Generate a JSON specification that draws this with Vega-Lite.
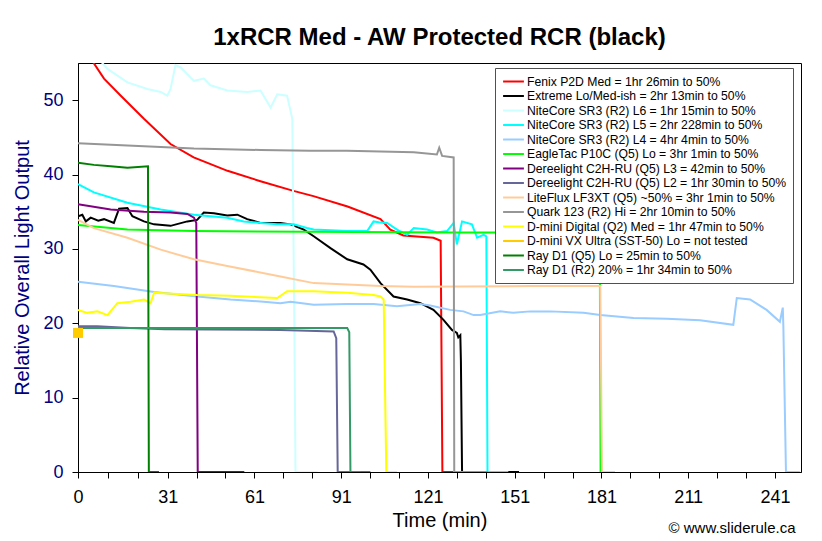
{
  "$schema": "https://vega.github.io/schema/vega-lite/v6.json",
  "background": "white",
  "padding": {"left": 12, "top": 25, "right": 22, "bottom": 0},
  "title": {"text": "© www.sliderule.ca", "orient": "bottom", "anchor": "end", "fontSize": 15, "font": "Liberation Sans", "fontWeight": "normal", "color": "black", "offset": -10, "dx": -6},
  "datasets": {
    "series": [
      {"k": "A", "name": "Fenix P2D Med = 1hr 26min to 50%"},
      {"k": "B", "name": "Extreme Lo/Med-ish = 2hr 13min to 50%"},
      {"k": "C", "name": "NiteCore SR3 (R2) L6 = 1hr 15min to 50%"},
      {"k": "D", "name": "NiteCore SR3 (R2) L5 = 2hr 228min to 50%"},
      {"k": "E", "name": "NiteCore SR3 (R2) L4 = 4hr 4min to 50%"},
      {"k": "F", "name": "EagleTac P10C (Q5) Lo = 3hr 1min to 50%"},
      {"k": "G", "name": "Dereelight C2H-RU (Q5) L3 = 42min to 50%"},
      {"k": "H", "name": "Dereelight C2H-RU (Q5) L2 = 1hr 30min to 50%"},
      {"k": "I", "name": "LiteFlux LF3XT (Q5) ~50% = 3hr 1min to 50%"},
      {"k": "J", "name": "Quark 123 (R2) Hi = 2hr 10min to 50%"},
      {"k": "K", "name": "D-mini Digital (Q2) Med = 1hr 47min to 50%"},
      {"k": "L", "name": "D-mini VX Ultra (SST-50) Lo = not tested"},
      {"k": "M", "name": "Ray D1 (Q5) Lo = 25min to 50%"},
      {"k": "N", "name": "Ray D1 (R2) 20% = 1hr 34min to 50%"}
    ],
    "runs": [
      {"k":"A","t":0,"y":57.7},{"k":"A","t":4.4,"y":55.6},{"k":"A","t":9,"y":52.9},{"k":"A","t":14.8,"y":50.6},{"k":"A","t":22.8,"y":47.5},{"k":"A","t":32,"y":44.1},{"k":"A","t":40,"y":42.3},{"k":"A","t":51.7,"y":40.5},{"k":"A","t":63.1,"y":39.1},{"k":"A","t":74.5,"y":37.8},{"k":"A","t":81.4,"y":37.1},{"k":"A","t":93.2,"y":35.7},{"k":"A","t":104.6,"y":34.0},{"k":"A","t":108,"y":32.6},{"k":"A","t":112.5,"y":31.8},{"k":"A","t":122.9,"y":31.5},{"k":"A","t":125.4,"y":31.1},{"k":"A","t":126,"y":0},{"k":"A","t":129.8,"y":0},
      {"k":"B","t":0,"y":34.4},{"k":"B","t":1.5,"y":34.6},{"k":"B","t":2.7,"y":33.7},{"k":"B","t":4.4,"y":34.2},{"k":"B","t":7,"y":33.8},{"k":"B","t":9,"y":34.0},{"k":"B","t":12.4,"y":33.5},{"k":"B","t":14.2,"y":35.4},{"k":"B","t":17.1,"y":35.5},{"k":"B","t":18.8,"y":34.4},{"k":"B","t":22.8,"y":33.7},{"k":"B","t":26.3,"y":33.3},{"k":"B","t":32,"y":33.1},{"k":"B","t":37.8,"y":33.7},{"k":"B","t":41.2,"y":33.9},{"k":"B","t":43.5,"y":34.9},{"k":"B","t":47,"y":34.8},{"k":"B","t":51.6,"y":34.5},{"k":"B","t":55.1,"y":34.6},{"k":"B","t":58.5,"y":34.0},{"k":"B","t":63.1,"y":33.5},{"k":"B","t":70,"y":33.5},{"k":"B","t":73.5,"y":33.3},{"k":"B","t":78.1,"y":32.6},{"k":"B","t":81.5,"y":31.7},{"k":"B","t":87.3,"y":30.1},{"k":"B","t":93.1,"y":28.6},{"k":"B","t":98.7,"y":27.9},{"k":"B","t":101.1,"y":27.2},{"k":"B","t":104.6,"y":25.4},{"k":"B","t":109.1,"y":23.6},{"k":"B","t":113.8,"y":23.2},{"k":"B","t":118.4,"y":22.7},{"k":"B","t":122.9,"y":21.8},{"k":"B","t":126.3,"y":20.5},{"k":"B","t":129.3,"y":19.1},{"k":"B","t":131,"y":18.7},{"k":"B","t":131.5,"y":18.1},{"k":"B","t":132.2,"y":18.4},{"k":"B","t":132.4,"y":15},{"k":"B","t":132.8,"y":0},{"k":"B","t":152.5,"y":0},
      {"k":"C","t":0,"y":58.5},{"k":"C","t":7.3,"y":55.5},{"k":"C","t":10.2,"y":54.2},{"k":"C","t":17.1,"y":52.4},{"k":"C","t":24,"y":51.5},{"k":"C","t":28.6,"y":51.1},{"k":"C","t":30.9,"y":50.6},{"k":"C","t":32,"y":51.5},{"k":"C","t":33.7,"y":54.7},{"k":"C","t":35.5,"y":54.4},{"k":"C","t":40.1,"y":52.6},{"k":"C","t":43.5,"y":52.9},{"k":"C","t":45.8,"y":52.0},{"k":"C","t":51.6,"y":51.3},{"k":"C","t":58.5,"y":51.1},{"k":"C","t":63.1,"y":51.3},{"k":"C","t":66.6,"y":49.0},{"k":"C","t":68.9,"y":50.8},{"k":"C","t":72.3,"y":50.6},{"k":"C","t":74.1,"y":47.5},{"k":"C","t":74.8,"y":20},{"k":"C","t":75.2,"y":0},{"k":"C","t":82.8,"y":0},
      {"k":"D","t":0,"y":38.7},{"k":"D","t":5.5,"y":37.6},{"k":"D","t":17.1,"y":36.2},{"k":"D","t":28.6,"y":35.3},{"k":"D","t":40.1,"y":34.6},{"k":"D","t":45.8,"y":34.4},{"k":"D","t":51.6,"y":34.2},{"k":"D","t":57.3,"y":33.7},{"k":"D","t":63.1,"y":33.5},{"k":"D","t":68.9,"y":33.3},{"k":"D","t":74.6,"y":33.3},{"k":"D","t":79.2,"y":32.8},{"k":"D","t":81.5,"y":32.6},{"k":"D","t":93.1,"y":32.4},{"k":"D","t":100,"y":32.4},{"k":"D","t":102.2,"y":33.7},{"k":"D","t":104,"y":33.6},{"k":"D","t":106.9,"y":33.5},{"k":"D","t":110.3,"y":32.6},{"k":"D","t":113.8,"y":31.9},{"k":"D","t":116.1,"y":32.8},{"k":"D","t":120.7,"y":32.6},{"k":"D","t":124.1,"y":32.2},{"k":"D","t":127.6,"y":32.4},{"k":"D","t":129.9,"y":33.5},{"k":"D","t":131,"y":30.6},{"k":"D","t":132.8,"y":33.7},{"k":"D","t":136.2,"y":33.3},{"k":"D","t":138,"y":31.5},{"k":"D","t":140.2,"y":31.9},{"k":"D","t":141.2,"y":31.7},{"k":"D","t":141.6,"y":0},{"k":"D","t":148.8,"y":0},
      {"k":"E","t":0,"y":25.6},{"k":"E","t":12.4,"y":25.0},{"k":"E","t":26.3,"y":24.2},{"k":"E","t":41.2,"y":23.6},{"k":"E","t":52.7,"y":23.2},{"k":"E","t":64.2,"y":22.9},{"k":"E","t":70,"y":22.7},{"k":"E","t":73.5,"y":22.9},{"k":"E","t":81.5,"y":22.5},{"k":"E","t":93.1,"y":22.6},{"k":"E","t":102.2,"y":22.6},{"k":"E","t":110.3,"y":22.3},{"k":"E","t":118.4,"y":22.6},{"k":"E","t":121.8,"y":22.4},{"k":"E","t":128.7,"y":21.8},{"k":"E","t":133.3,"y":21.6},{"k":"E","t":136.8,"y":21.1},{"k":"E","t":139.1,"y":21.1},{"k":"E","t":146,"y":21.6},{"k":"E","t":150.5,"y":21.4},{"k":"E","t":156.4,"y":21.6},{"k":"E","t":163.3,"y":21.6},{"k":"E","t":174.8,"y":21.4},{"k":"E","t":180.6,"y":21.1},{"k":"E","t":192.1,"y":20.7},{"k":"E","t":203.6,"y":20.6},{"k":"E","t":215.1,"y":20.4},{"k":"E","t":226.6,"y":19.8},{"k":"E","t":227.8,"y":23.4},{"k":"E","t":232.4,"y":23.2},{"k":"E","t":238.1,"y":21.8},{"k":"E","t":242.7,"y":20.2},{"k":"E","t":243.7,"y":22.1},{"k":"E","t":243.9,"y":19.6},{"k":"E","t":244.8,"y":0},{"k":"E","t":249.6,"y":0},
      {"k":"F","t":0,"y":33.2},{"k":"F","t":17.1,"y":32.6},{"k":"F","t":40.1,"y":32.4},{"k":"F","t":80,"y":32.3},{"k":"F","t":130,"y":32.2},{"k":"F","t":180.4,"y":32.2},{"k":"F","t":180.7,"y":0},{"k":"F","t":181.5,"y":0},
      {"k":"G","t":0,"y":36.0},{"k":"G","t":11.3,"y":35.3},{"k":"G","t":22.8,"y":35.0},{"k":"G","t":32,"y":34.9},{"k":"G","t":37.8,"y":34.7},{"k":"G","t":40.1,"y":34.2},{"k":"G","t":40.9,"y":33.5},{"k":"G","t":41.4,"y":0},{"k":"G","t":57.5,"y":0},
      {"k":"H","t":0,"y":19.6},{"k":"H","t":6.7,"y":19.6},{"k":"H","t":18,"y":19.35},{"k":"H","t":30,"y":19.2},{"k":"H","t":70,"y":19.1},{"k":"H","t":88.4,"y":18.9},{"k":"H","t":89.3,"y":18.0},{"k":"H","t":89.8,"y":0},{"k":"H","t":101.1,"y":0},
      {"k":"I","t":0,"y":33.9},{"k":"I","t":5.5,"y":32.8},{"k":"I","t":17.1,"y":31.5},{"k":"I","t":28.6,"y":29.9},{"k":"I","t":40.1,"y":28.6},{"k":"I","t":51.6,"y":27.7},{"k":"I","t":70,"y":26.3},{"k":"I","t":81.5,"y":25.4},{"k":"I","t":93.1,"y":25.2},{"k":"I","t":104.6,"y":25.0},{"k":"I","t":116.1,"y":24.9},{"k":"I","t":156.4,"y":25.0},{"k":"I","t":180.6,"y":25.0},{"k":"I","t":181.2,"y":0},{"k":"I","t":185.7,"y":0},
      {"k":"J","t":0,"y":44.2},{"k":"J","t":17.1,"y":43.9},{"k":"J","t":40.1,"y":43.5},{"k":"J","t":63.1,"y":43.3},{"k":"J","t":80.4,"y":43.2},{"k":"J","t":93,"y":43.2},{"k":"J","t":116.1,"y":43.0},{"k":"J","t":124.1,"y":42.7},{"k":"J","t":124.9,"y":43.6},{"k":"J","t":125.9,"y":42.5},{"k":"J","t":129.9,"y":42.3},{"k":"J","t":130.1,"y":0},{"k":"J","t":141.8,"y":0},
      {"k":"K","t":0,"y":21.8},{"k":"K","t":3.2,"y":21.4},{"k":"K","t":6.7,"y":21.6},{"k":"K","t":10.2,"y":21.1},{"k":"K","t":13.6,"y":22.7},{"k":"K","t":18.2,"y":22.9},{"k":"K","t":22.8,"y":23.2},{"k":"K","t":25.1,"y":22.7},{"k":"K","t":26.3,"y":24.1},{"k":"K","t":41.2,"y":23.8},{"k":"K","t":52.7,"y":23.7},{"k":"K","t":68.9,"y":23.4},{"k":"K","t":72.3,"y":24.3},{"k":"K","t":81.5,"y":24.3},{"k":"K","t":93.1,"y":24.1},{"k":"K","t":102.2,"y":23.8},{"k":"K","t":104.6,"y":23.6},{"k":"K","t":105.7,"y":23.2},{"k":"K","t":106.6,"y":0},{"k":"K","t":110.3,"y":0},
      {"k":"L","t":0,"y":18.7},
      {"k":"M","t":0,"y":41.6},{"k":"M","t":5.5,"y":41.3},{"k":"M","t":11.3,"y":41.1},{"k":"M","t":17.1,"y":40.9},{"k":"M","t":24.2,"y":41.1},{"k":"M","t":24.5,"y":0},{"k":"M","t":28,"y":0},
      {"k":"N","t":0,"y":19.35},{"k":"N","t":30,"y":19.35},{"k":"N","t":60,"y":19.35},{"k":"N","t":93.1,"y":19.35},{"k":"N","t":93.8,"y":18.8},{"k":"N","t":94.2,"y":0},{"k":"N","t":97.7,"y":0}
    ]
  },
  "config": {
    "font": "Liberation Sans",
    "view": {"stroke": "black", "strokeWidth": 1},
    "axis": {"grid": false, "domainColor": "black", "tickColor": "black", "tickSize": 6, "labelFont": "Liberation Sans", "titleFont": "Liberation Sans", "titleFontWeight": "normal"}
  },
  "vconcat": [
    {
      "width": 723,
      "height": 409,
      "title": {"text": "1xRCR Med - AW Protected RCR (black)", "fontSize": 24, "font": "Liberation Sans", "fontWeight": "bold", "color": "black", "offset": 13},
      "data": {"name": "runs"},
      "transform": [
        {"lookup": "k", "from": {"data": {"name": "series"}, "key": "k", "fields": ["name"]}}
      ],
      "resolve": {"axis": {"x": "independent"}},
      "layer": [
        {
          "transform": [{"filter": "datum.k !== 'L'"}],
          "mark": {"type": "line", "strokeWidth": 2, "clip": true},
          "encoding": {
            "x": {"field": "t", "type": "quantitative", "scale": {"domain": [0, 250], "nice": false},
              "axis": {"orient": "bottom", "title": "Time (min)", "titleFontSize": 20, "titleColor": "black", "titlePadding": 4,
                "values": [0, 31, 61, 91, 121, 151, 181, 211, 241],
                "labelOverlap": false, "labelFlush": false, "labelFontSize": 18, "labelColor": "black", "labelPadding": 10}},
            "y": {"field": "y", "type": "quantitative", "scale": {"domain": [0, 55], "nice": false},
              "axis": {"title": "Relative Overall Light Output", "titleFontSize": 20, "titleColor": "#000080", "titlePadding": 10,
                "values": [0, 10, 20, 30, 40, 50], "labelFontSize": 18, "labelColor": "#000080", "labelPadding": 9}},
            "color": {"field": "name", "type": "nominal",
              "scale": {
                "domain": ["Fenix P2D Med = 1hr 26min to 50%", "Extreme Lo/Med-ish = 2hr 13min to 50%", "NiteCore SR3 (R2) L6 = 1hr 15min to 50%", "NiteCore SR3 (R2) L5 = 2hr 228min to 50%", "NiteCore SR3 (R2) L4 = 4hr 4min to 50%", "EagleTac P10C (Q5) Lo = 3hr 1min to 50%", "Dereelight C2H-RU (Q5) L3 = 42min to 50%", "Dereelight C2H-RU (Q5) L2 = 1hr 30min to 50%", "LiteFlux LF3XT (Q5) ~50% = 3hr 1min to 50%", "Quark 123 (R2) Hi = 2hr 10min to 50%", "D-mini Digital (Q2) Med = 1hr 47min to 50%", "D-mini VX Ultra (SST-50) Lo = not tested", "Ray D1 (Q5) Lo = 25min to 50%", "Ray D1 (R2) 20% = 1hr 34min to 50%"],
                "range": ["#FF0000", "#000000", "#CCFFFF", "#00FFFF", "#99CCFF", "#00FF00", "#800080", "#666699", "#FFCC99", "#969696", "#FFFF00", "#FFCC00", "#008000", "#339966"]
              },
              "legend": {"title": null, "orient": "none", "legendX": 417, "legendY": 5, "symbolType": "M-1.6,0H1.6", "symbolSize": 169, "symbolStrokeWidth": 2,
                "labelFont": "Liberation Sans", "labelFontSize": 12.2, "labelColor": "black", "labelLimit": 400, "labelOffset": 6,
                "rowPadding": 0.5, "padding": 6, "symbolOffset": 5, "fillColor": "white", "strokeColor": "#505050"}}
          }
        },
        {
          "transform": [{"filter": "datum.k === 'L'"}],
          "mark": {"type": "point", "shape": "square", "filled": true, "size": 100, "opacity": 1, "clip": false},
          "encoding": {
            "x": {"field": "t", "type": "quantitative",
              "axis": {"orient": "bottom", "title": null, "labels": false, "domain": false, "ticks": true,
                "values": [10.3, 20.7, 41, 51, 71, 81, 101, 111, 131, 141, 161, 171, 191, 201, 221, 231]}},
            "y": {"field": "y", "type": "quantitative"},
            "color": {"field": "name", "type": "nominal", "legend": null}
          }
        }
      ]
    }
  ]
}
